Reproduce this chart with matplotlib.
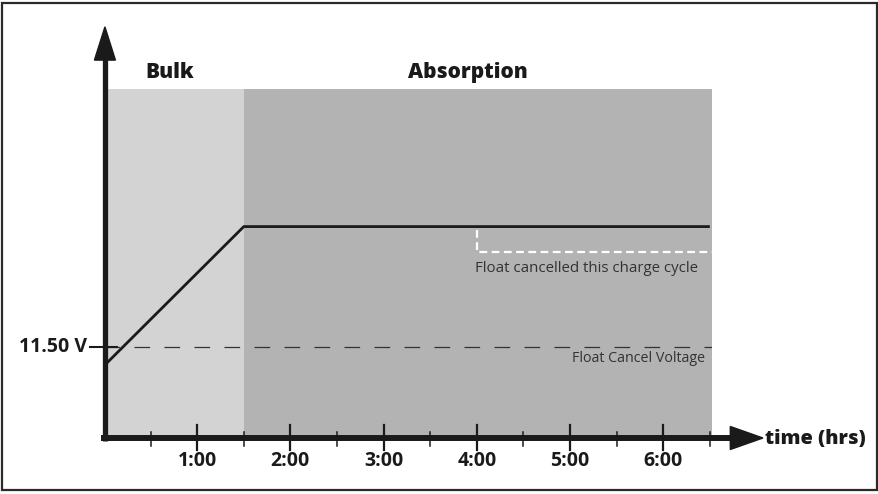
import matplotlib
matplotlib.use("Agg")
import matplotlib.pyplot as plt
from matplotlib.patches import Rectangle, Polygon

# charge profile (hours, volts)
hours = [0.0, 1.5, 6.5]
volts = [11.2, 13.4, 13.4]

phase_names = ["Bulk", "Absorption"]
phase_start = [0.0, 1.5]
phase_end = [1.5, 6.52]
phase_label_x = [0.71, 3.9]
phase_colors = ["#d3d3d3", "#b3b3b3"]

cancel_v = 11.5
cancel_label = "11.50 V"
float_start = 4.0
float_v = 13.0

major_ticks = [1, 2, 3, 4, 5, 6]
minor_ticks = [0.5, 1.5, 2.5, 3.5, 4.5, 5.5, 6.5]
tick_labels = ["1:00", "2:00", "3:00", "4:00", "5:00", "6:00"]

# pixel scale of the drawing
W, H = 879, 494
PXH = 93.2   # px per hour
PXV = 63.3   # px per volt
x0_px, y0_px = 104, 438
xmax, vmin = 6.52, 10.06
vmax = vmin + (y0_px - 88.6) / PXV

plt.rcParams['font.family'] = ['Open Sans', 'DejaVu Sans']

fig = plt.figure(figsize=(W / 100, H / 100), dpi=100)
ax = fig.add_axes([x0_px / W, (H - y0_px) / H, xmax * PXH / W, (y0_px - 88.6) / H])
ax.set_xlim(0, xmax)
ax.set_ylim(vmin, vmax)
ax.axis("off")

# phase shading
for s, e, c in zip(phase_start, phase_end, phase_colors):
    ax.axvspan(s, e, color=c, lw=0, zorder=0)
for name, lx in zip(phase_names, phase_label_x):
    ax.text(lx, 15.83, name, ha="center", va="center", fontsize=15,
            fontweight="heavy", color="#1a1a1a", clip_on=False)

# float cancel voltage
ax.plot([0, 6.52], [cancel_v, cancel_v], color="#333333", lw=0.9,
        linestyle=(0, (12.5, 11.5)), zorder=2)
ax.text(6.45, cancel_v - 12 / PXV, "Float Cancel Voltage", ha="right", va="center",
        fontsize=10.3, color="#333333")

# float cancelled marker
ax.plot([float_start, float_start, 6.52], [volts[-1] - 3 / PXV, float_v, float_v],
        color="white", lw=1.6, linestyle=(0, (3.5, 2)), zorder=2)
ax.text(float_start - 0.02, 12.74, "Float cancelled this charge cycle", ha="left",
        va="center", fontsize=10.8, color="#333333")

# charge curve
ax.plot(hours, volts, color="#1a1a1a", lw=2.0, solid_capstyle="butt", zorder=3)

# axes lines and arrows
ax.plot([0.01, 0.01], [vmin - 3 / PXV, 16.1], color="#1a1a1a", lw=3.8,
        clip_on=False, solid_capstyle="butt", zorder=4)
ax.add_patch(Polygon([[0.01 - 10.5 / PXH, 16.03], [0.01 + 10.5 / PXH, 16.03],
                      [0.01, 11.5 + (347 - 27) / PXV]], closed=True,
                     color="#1a1a1a", clip_on=False, zorder=4))
ax.plot([-0.03, 6.8], [vmin, vmin], color="#1a1a1a", lw=4.3,
        clip_on=False, solid_capstyle="butt", zorder=4)
ax.add_patch(Polygon([[6.72, vmin + 11.5 / PXV], [6.72, vmin - 11.5 / PXV],
                      [7.07, vmin]], closed=True,
                     color="#1a1a1a", clip_on=False, zorder=4))
ax.text(7.09, vmin - 1 / PXV, "time (hrs)", ha="left", va="center", fontsize=14.3,
        fontweight="heavy", color="#1a1a1a", clip_on=False)

# ticks
for t in major_ticks:
    ax.plot([t, t], [vmin + 13 / PXV, vmin - 12 / PXV], color="#1a1a1a", lw=1.6,
            clip_on=False, zorder=4)
for t in minor_ticks:
    ax.plot([t, t], [vmin + 6 / PXV, vmin - 8 / PXV], color="#1a1a1a", lw=1.1,
            clip_on=False, zorder=4)
for t, lab in zip(major_ticks, tick_labels):
    ax.text(t, vmin - 23 / PXV, lab, ha="center", va="center", fontsize=14,
            fontweight="bold", color="#1a1a1a", clip_on=False)

# y reference tick
ax.plot([-14 / PXH, 13 / PXH], [cancel_v, cancel_v], color="#1a1a1a", lw=1.5,
        clip_on=False, zorder=4)
ax.text(-17 / PXH, cancel_v, cancel_label, ha="right", va="center", fontsize=14,
        fontweight="bold", color="#1a1a1a", clip_on=False)

# outer frame
fig.add_artist(Rectangle((2 / W, 4 / H), 875 / W, 487 / H, transform=fig.transFigure,
                         fill=False, lw=1.6, ec="#2a2a2a"))

fig.savefig("out.png", dpi=100)
